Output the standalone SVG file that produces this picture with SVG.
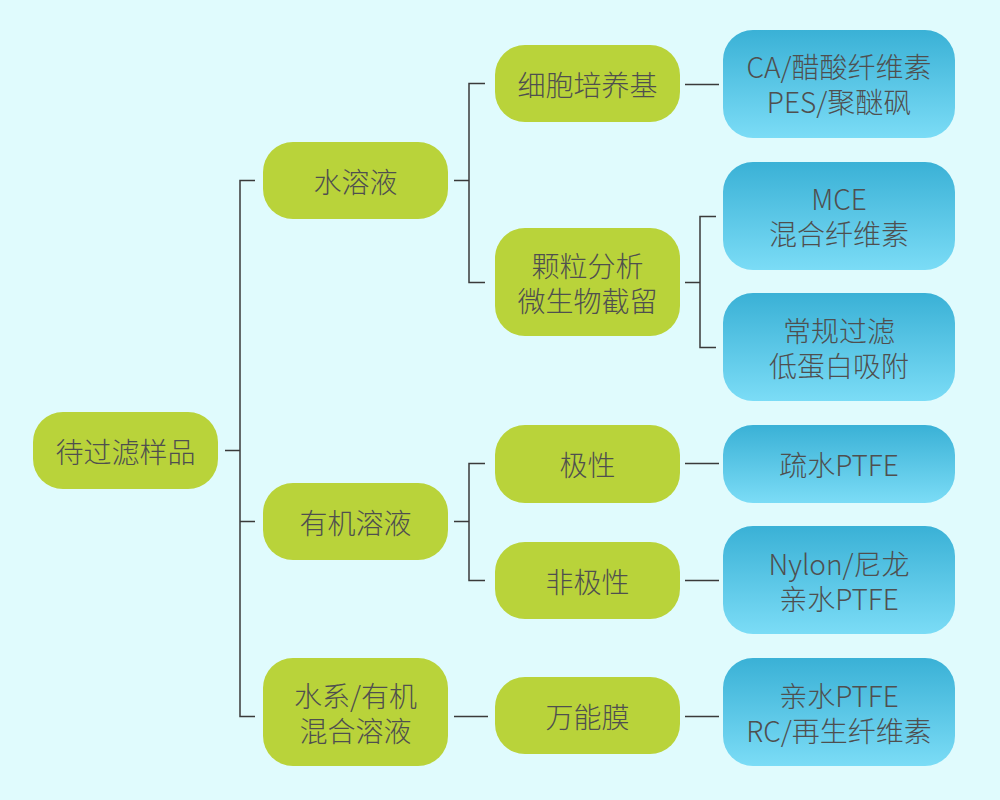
<svg xmlns="http://www.w3.org/2000/svg" width="1000" height="800" viewBox="0 0 1000 800">
<style>
.g{fill:#b9d33a}
.b{fill:url(#bg)}
text{font-family:"Noto Sans CJK SC","Noto Sans",sans-serif;font-size:28px;font-weight:300;fill:#4f4f4f;text-anchor:middle;dominant-baseline:central}
.c{stroke:#3a3a3a;stroke-width:1.5;fill:none}
</style>
<defs>
<linearGradient id="bg" x1="0" y1="0" x2="0" y2="1">
<stop offset="0" stop-color="#3ab1d6"/>
<stop offset="1" stop-color="#7bdcf6"/>
</linearGradient>
</defs>
<rect width="1000" height="800" fill="#e0fbfd"/>
<g id="connectors" class="c">
<path d="M225 450.5H240M255 180.5H240V716.5H255M240 521.5H255"/>
<path d="M454 180.5H469M485 83.5H469V282.5H485"/>
<path d="M685 84.5H719"/>
<path d="M685 282.5H700M716 216.5H700V347.5H716"/>
<path d="M454 521.5H469M485 463.5H469V580.5H485"/>
<path d="M685 463.5H719"/>
<path d="M685 580.5H719"/>
<path d="M454 716.5H488"/>
<path d="M685 716.5H719"/>
</g>
<g id="root"><rect class="g" x="33" y="412" width="185" height="77" rx="30"/><text x="125.5" y="451">待过滤样品</text></g>
<g id="n-water"><rect class="g" x="263" y="142" width="185" height="77" rx="30"/><text x="355.5" y="181">水溶液</text></g>
<g id="n-organic"><rect class="g" x="263" y="483" width="185" height="77" rx="30"/><text x="355.5" y="522">有机溶液</text></g>
<g id="n-mixed"><rect class="g" x="263" y="658" width="185" height="108" rx="30"/><text x="355.5" y="694.5">水系/有机</text><text x="355.5" y="729.5">混合溶液</text></g>
<g id="n-cell"><rect class="g" x="495" y="45" width="185" height="77" rx="30"/><text x="587.5" y="83.5">细胞培养基</text></g>
<g id="n-particle"><rect class="g" x="495" y="228" width="185" height="108" rx="30"/><text x="587.5" y="264.5">颗粒分析</text><text x="587.5" y="299.5">微生物截留</text></g>
<g id="n-polar"><rect class="g" x="495" y="425" width="185" height="78" rx="30"/><text x="587.5" y="464">极性</text></g>
<g id="n-nonpolar"><rect class="g" x="495" y="542" width="185" height="77" rx="30"/><text x="587.5" y="580.5">非极性</text></g>
<g id="n-universal"><rect class="g" x="495" y="677" width="185" height="77" rx="30"/><text x="587.5" y="715.5">万能膜</text></g>
<g id="m-ca"><rect class="b" x="723" y="30" width="232" height="108" rx="30"/><text x="839" y="66">CA/醋酸纤维素</text><text x="839" y="101">PES/聚醚砜</text></g>
<g id="m-mce"><rect class="b" x="723" y="162" width="232" height="108" rx="30"/><text x="839" y="198">MCE</text><text x="839" y="233">混合纤维素</text></g>
<g id="m-normal"><rect class="b" x="723" y="293" width="232" height="108" rx="30"/><text x="839" y="329.5">常规过滤</text><text x="839" y="364.5">低蛋白吸附</text></g>
<g id="m-hptfe"><rect class="b" x="723" y="425" width="232" height="78" rx="30"/><text x="839" y="464">疏水PTFE</text></g>
<g id="m-nylon"><rect class="b" x="723" y="526" width="232" height="108" rx="30"/><text x="839" y="562.5">Nylon/尼龙</text><text x="839" y="597.5">亲水PTFE</text></g>
<g id="m-rc"><rect class="b" x="723" y="658" width="232" height="108" rx="30"/><text x="839" y="694.5">亲水PTFE</text><text x="839" y="729.5">RC/再生纤维素</text></g>
</svg>
